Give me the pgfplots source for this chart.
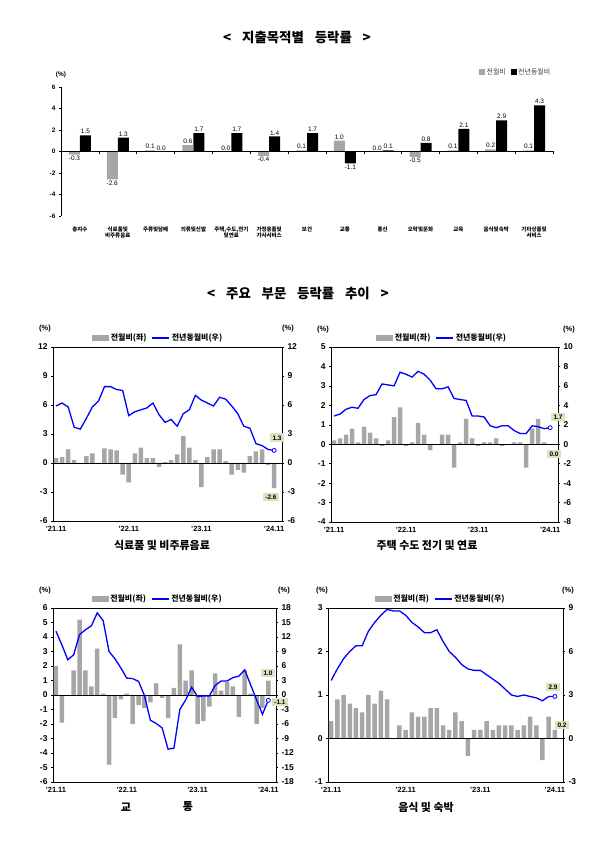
\documentclass[border=0pt]{standalone}
\usepackage{pgfplots}
\pgfplotsset{compat=1.18}
\usepackage{pgfplotstable}
\usepackage{fontspec}
\setmainfont{Liberation Sans}
\newfontfamily\kr{Noto Sans CJK KR}
\definecolor{bargray}{RGB}{166,166,166}
\definecolor{boxgreen}{RGB}{215,228,189}
\definecolor{lineblue}{RGB}{0,0,255}

\pgfplotstableread{
i mom yoy
0 0.5 5.9
1 0.6 6.2
2 1.4 5.8
3 0.3 3.7
4 -0.1 3.5
5 0.7 4.6
6 1.0 5.8
7 0.0 6.4
8 1.5 7.9
9 1.4 7.9
10 1.3 7.6
11 -1.2 7.5
12 -2.0 4.9
13 1.0 5.3
14 1.6 5.5
15 0.5 5.7
16 0.5 6.2
17 -0.4 5.0
18 0.1 4.2
19 0.3 4.5
20 0.9 3.8
21 2.8 5.1
22 1.6 5.5
23 0.3 7.0
24 -2.5 6.5
25 0.6 6.2
26 1.4 5.9
27 1.4 6.8
28 0.2 6.6
29 -1.2 5.9
30 -0.7 5.1
31 -1.0 3.8
32 0.7 3.6
33 1.2 2.0
34 1.4 1.8
35 -0.2 1.4
36 -2.6 1.3
}\dFood

\pgfplotstableread{
i mom yoy
0 0.2 2.9
1 0.3 3.1
2 0.5 3.6
3 0.8 3.8
4 0.1 3.7
5 0.9 4.6
6 0.6 5.0
7 0.3 5.1
8 -0.1 6.2
9 0.2 6.1
10 1.4 6.0
11 1.9 7.4
12 -0.1 7.2
13 0.1 6.9
14 1.1 7.5
15 0.5 7.2
16 -0.3 6.6
17 0.0 5.7
18 0.5 5.7
19 0.5 5.9
20 -1.2 4.7
21 0.1 4.6
22 1.3 4.5
23 0.3 2.9
24 -0.1 2.9
25 0.1 2.8
26 0.1 1.9
27 0.3 1.7
28 -0.1 1.9
29 0.0 1.9
30 0.1 1.4
31 0.1 1.1
32 -1.2 1.1
33 0.8 1.9
34 1.3 1.8
35 0.1 1.6
36 0.0 1.7
}\dHouse

\pgfplotstableread{
i mom yoy
0 2.0 13.2
1 -1.9 10.4
2 -0.05 7.3
3 1.7 8.3
4 5.2 12.5
5 1.7 13.5
6 0.6 14.3
7 3.2 17.0
8 0.1 15.4
9 -4.8 9.0
10 -1.6 7.5
11 -0.3 5.6
12 0.1 3.5
13 -2.0 3.4
14 -0.7 2.8
15 -0.9 -0.1
16 -0.5 -5.2
17 0.8 -5.9
18 -0.2 -6.8
19 -1.6 -11.2
20 0.5 -11.0
21 3.5 -3.0
22 1.0 -1.0
23 1.7 1.6
24 -2.0 -0.3
25 -1.8 -0.2
26 -0.8 -0.2
27 1.5 2.0
28 0.3 2.9
29 0.9 2.9
30 0.6 3.6
31 -1.5 3.9
32 1.7 5.2
33 0.1 2.1
34 -2.0 -1.0
35 -0.9 -4.0
36 1.0 -1.1
}\dTrans

\pgfplotstableread{
i mom yoy
0 0.4 4.0
1 0.9 4.8
2 1.0 5.5
3 0.8 6.0
4 0.7 6.4
5 0.6 6.4
6 1.0 7.4
7 0.8 8.0
8 1.1 8.5
9 0.9 8.9
10 0.0 8.8
11 0.3 8.8
12 0.2 8.5
13 0.6 8.0
14 0.5 7.7
15 0.5 7.3
16 0.7 7.3
17 0.7 7.5
18 0.3 6.7
19 0.2 6.0
20 0.6 5.6
21 0.4 5.1
22 -0.4 4.8
23 0.2 4.7
24 0.2 4.7
25 0.4 4.4
26 0.2 4.1
27 0.3 3.8
28 0.3 3.4
29 0.3 3.0
30 0.2 2.9
31 0.3 3.0
32 0.5 2.9
33 0.3 2.8
34 -0.5 2.6
35 0.5 2.9
36 0.2 2.9
}\dMeal

\pgfplotstableread{
c mom yoy
0 -0.3 1.5
1 -2.6 1.3
2 0.1 0.0
3 0.6 1.7
4 0.0 1.7
5 -0.4 1.4
6 0.1 1.7
7 1.0 -1.1
8 0.0 0.1
9 -0.5 0.8
10 0.1 2.1
11 0.2 2.9
12 0.1 4.3
}\dTop

\pgfplotsset{
  panelbase/.style={scale only axis, xmin=-0.5, xmax=37.3,
    /pgf/number format/assume math mode=true,
    yticklabel style={font=\bfseries\fontsize{8.5}{9}\selectfont},
    xticklabel style={font=\bfseries\fontsize{7.5}{8}\selectfont},
    tick align=outside, major tick length=2bp,
    tick style={black, line width=0.5bp},
    axis line style={line width=0.6bp}},
  leftpanel/.style={panelbase, ytick pos=left,
    xtick={0,12,24,36}, xticklabels={’21.11,’22.11,’23.11,’24.11},
    xtick style={draw=none}},
  rightpanel/.style={panelbase, axis y line*=right, axis x line=none,
    legend style={draw=none, fill=none, legend columns=2,
      font=\kr\bfseries\fontsize{8}{9}\selectfont, inner sep=0.5bp,
      /tikz/every even column/.append style={column sep=3bp}},
    legend cell align=left},
  mombar/.style={ybar, bar width=4.5bp, bar shift=0pt, fill=bargray, draw=none},
  yoyline/.style={lineblue, line width=1.3bp, mark=none},
  lastpt/.style={only marks, mark=*, mark size=2bp,
    mark options={fill=white, draw=lineblue, line width=0.8bp}, forget plot},
  vallabels/.style={nodes near coords,
    every node near coord/.append style={font=\fontsize{6.5}{7}\selectfont, inner sep=1.2bp, text=black,
      xshift=#1,
      /pgf/number format/fixed, /pgf/number format/fixed zerofill,
      /pgf/number format/precision=1, /pgf/number format/assume math mode=true}},
}
\tikzset{valbox/.style={fill=boxgreen, inner sep=2.2bp,
  font=\bfseries\fontsize{6.5}{7}\selectfont}}

\begin{document}
\begin{tikzpicture}
\path[use as bounding box] (0,0) rectangle (600bp,844bp);

% titles
\node[font=\kr\bfseries\fontsize{13.5}{15}\selectfont] at (297bp,807bp)
  {<\hspace{0.8em}지출목적별\hspace{0.8em}등락률\hspace{0.8em}>};
\node[font=\kr\bfseries\fontsize{13.5}{15}\selectfont] at (298bp,551bp)
  {<\hspace{0.8em}주요\hspace{0.8em}부문\hspace{0.8em}등락률\hspace{0.8em}추이\hspace{0.8em}>};

% ---------- top chart ----------
\begin{axis}[
  at={(61bp,628bp)}, anchor=south west, scale only axis,
  width=492bp, height=129bp,
  xmin=-0.5, xmax=12.5, ymin=-6, ymax=6,
  axis y line*=left, axis x line*=bottom,
  x axis line style={draw=none},
  axis line style={line width=0.6bp},
  ytick={-6,-4,...,6},
  /pgf/number format/assume math mode=true,
  yticklabel style={font=\bfseries\fontsize{6.5}{7}\selectfont},
  tick align=outside, major tick length=2bp, tick style={black, line width=0.5bp},
  xtick={0,...,12},
  xtick style={draw=none},
  xticklabels={총지수,식료품및\\비주류음료,주류및담배,의류및신발,{주택,수도,전기\\및연료},가정용품및\\가사서비스,보건,교통,통신,오락및문화,교육,음식및숙박,기타상품및\\서비스},
  xticklabel style={font=\kr\bfseries\fontsize{5.5}{6}\selectfont, align=center, yshift=-5bp},
  clip=false,
  legend style={at={(1,1.115)}, anchor=east, draw=none, fill=none, legend columns=2,
    font=\kr\fontsize{7}{8}\selectfont, text=black!75, inner sep=0.5bp,
    /tikz/every even column/.append style={column sep=3bp}},
]
\addlegendimage{legend image code/.code={\fill[bargray] (0bp,-2.5bp) rectangle (5bp,2.5bp);}}
\addlegendentry{전월비}
\addlegendimage{legend image code/.code={\fill[black] (0bp,-2.5bp) rectangle (5bp,2.5bp);}}
\addlegendentry{전년동월비}
\addplot[ybar, bar width=11bp, bar shift=5.5bp, fill=black, draw=none, forget plot]
  table[x=c, y=yoy]{\dTop};
\addplot[ybar, bar width=11bp, bar shift=-5.5bp, fill=bargray, draw=none, forget plot, vallabels=-5.5bp]
  table[x=c, y=mom]{\dTop};
\addplot[ybar, bar width=11bp, bar shift=5.5bp, fill=none, draw=none, forget plot, vallabels=5.5bp]
  table[x=c, y=yoy]{\dTop};
\draw[black, line width=0.6bp] (axis cs:-0.5,0) -- (axis cs:12.5,0);
\pgfplotsinvokeforeach{-0.5,0.5,...,12.5}{\draw[black, line width=0.5bp] (axis cs:#1,0) -- ([yshift=-2.5bp]axis cs:#1,0);}
\end{axis}
\node[font=\bfseries\fontsize{6.5}{7}\selectfont] at (61bp,769bp) {(\%)};

% ---------- panel 1: food ----------
\begin{axis}[leftpanel, at={(53bp,323bp)}, anchor=south west,
  width=229bp, height=174bp, ymin=-6, ymax=12, ytick={-6,-3,...,12}]
\addplot[mombar] table[x=i, y=mom]{\dFood};
\draw[black, line width=0.5bp] (axis cs:-0.5,0) -- (axis cs:37.3,0);
\end{axis}
\begin{axis}[rightpanel, at={(53bp,323bp)}, anchor=south west,
  width=229bp, height=174bp, ymin=-6, ymax=12, ytick={-6,-3,...,12},
  legend style={at={(0.46,1.012)}, anchor=south}]
\addlegendimage{legend image code/.code={\fill[bargray] (0bp,-2.5bp) rectangle (16bp,2.5bp);}}
\addlegendentry{전월비(좌)}
\addplot[yoyline] table[x=i, y=yoy]{\dFood};
\addlegendentry{전년동월비(우)}
\addplot[lastpt] coordinates {(36,1.3)};
\end{axis}
\node[font=\bfseries\fontsize{7.5}{8}\selectfont] at (45bp,515bp) {(\%)};
\node[font=\bfseries\fontsize{7.5}{8}\selectfont] at (288bp,515bp) {(\%)};
\node[valbox] at (277bp,406bp) {1.3};
\node[valbox] at (271bp,347bp) {-2.6};
\node[font=\kr\bfseries\fontsize{11}{12}\selectfont] at (162bp,299bp) {식료품 및 비주류음료};

% ---------- panel 2: housing ----------
\begin{axis}[leftpanel, at={(331bp,322bp)}, anchor=south west,
  width=227bp, height=175bp, ymin=-4, ymax=5, ytick={-4,-3,...,5}]
\addplot[mombar] table[x=i, y=mom]{\dHouse};
\draw[black, line width=0.5bp] (axis cs:-0.5,0) -- (axis cs:37.3,0);
\end{axis}
\begin{axis}[rightpanel, at={(331bp,322bp)}, anchor=south west,
  width=227bp, height=175bp, ymin=-8, ymax=10, ytick={-8,-6,...,10},
  legend style={at={(0.49,1.012)}, anchor=south}]
\addlegendimage{legend image code/.code={\fill[bargray] (0bp,-2.5bp) rectangle (16bp,2.5bp);}}
\addlegendentry{전월비(좌)}
\addplot[yoyline] table[x=i, y=yoy]{\dHouse};
\addlegendentry{전년동월비(우)}
\addplot[lastpt] coordinates {(36,1.7)};
\end{axis}
\node[font=\bfseries\fontsize{7.5}{8}\selectfont] at (323bp,514bp) {(\%)};
\node[font=\bfseries\fontsize{7.5}{8}\selectfont] at (569bp,514bp) {(\%)};
\node[valbox] at (558bp,427bp) {1.7};
\node[valbox] at (554bp,390bp) {0.0};
\node[font=\kr\bfseries\fontsize{11}{12}\selectfont] at (427bp,299bp) {주택 수도 전기 및 연료};

% ---------- panel 3: transport ----------
\begin{axis}[leftpanel, at={(53bp,62bp)}, anchor=south west,
  width=223bp, height=174bp, ymin=-6, ymax=6, ytick={-6,-5,...,6}]
\addplot[mombar] table[x=i, y=mom]{\dTrans};
\draw[black, line width=0.5bp] (axis cs:-0.5,0) -- (axis cs:37.3,0);
\end{axis}
\begin{axis}[rightpanel, at={(53bp,62bp)}, anchor=south west,
  width=223bp, height=174bp, ymin=-18, ymax=18, ytick={-18,-15,...,18},
  legend style={at={(0.47,1.012)}, anchor=south}]
\addlegendimage{legend image code/.code={\fill[bargray] (0bp,-2.5bp) rectangle (16bp,2.5bp);}}
\addlegendentry{전월비(좌)}
\addplot[yoyline] table[x=i, y=yoy]{\dTrans};
\addlegendentry{전년동월비(우)}
\addplot[lastpt] coordinates {(36,-1.1)};
\end{axis}
\node[font=\bfseries\fontsize{7.5}{8}\selectfont] at (45bp,253bp) {(\%)};
\node[font=\bfseries\fontsize{7.5}{8}\selectfont] at (284bp,253bp) {(\%)};
\node[valbox] at (268bp,171bp) {1.0};
\node[valbox] at (280bp,142bp) {-1.1};
\node[font=\kr\bfseries\fontsize{11}{12}\selectfont] at (126bp,37bp) {교};
\node[font=\kr\bfseries\fontsize{11}{12}\selectfont] at (188bp,37bp) {통};

% ---------- panel 4: meals ----------
\begin{axis}[leftpanel, at={(328bp,62bp)}, anchor=south west,
  width=235bp, height=174bp, ymin=-1, ymax=3, ytick={-1,0,...,3}]
\addplot[mombar] table[x=i, y=mom]{\dMeal};
\draw[black, line width=0.5bp] (axis cs:-0.5,0) -- (axis cs:37.3,0);
\end{axis}
\begin{axis}[rightpanel, at={(328bp,62bp)}, anchor=south west,
  width=235bp, height=174bp, ymin=-3, ymax=9, ytick={-3,0,...,9},
  legend style={at={(0.48,1.012)}, anchor=south}]
\addlegendimage{legend image code/.code={\fill[bargray] (0bp,-2.5bp) rectangle (16bp,2.5bp);}}
\addlegendentry{전월비(좌)}
\addplot[yoyline] table[x=i, y=yoy]{\dMeal};
\addlegendentry{전년동월비(우)}
\addplot[lastpt] coordinates {(36,2.9)};
\end{axis}
\node[font=\bfseries\fontsize{7.5}{8}\selectfont] at (322bp,253bp) {(\%)};
\node[font=\bfseries\fontsize{7.5}{8}\selectfont] at (568bp,253bp) {(\%)};
\node[valbox] at (553bp,157bp) {2.9};
\node[valbox] at (562bp,119bp) {0.2};
\node[font=\kr\bfseries\fontsize{11}{12}\selectfont] at (426bp,37bp) {음식 및 숙박};

\end{tikzpicture}
\end{document}
